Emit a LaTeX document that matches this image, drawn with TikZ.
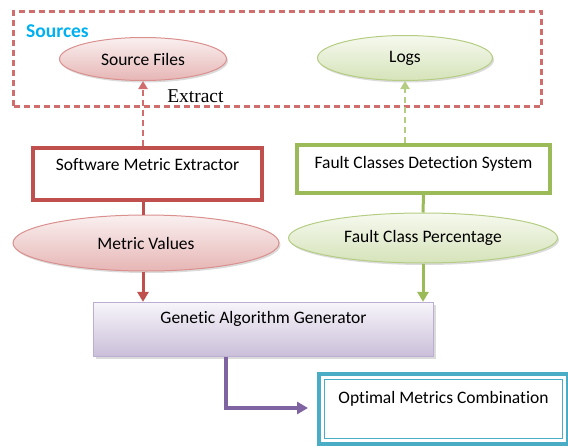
\documentclass[tikz,border=0pt]{standalone}
\usepackage{fontspec}
\setmainfont{Carlito}[Ligatures=NoCommon]
\newfontfamily\extractfont{Liberation Serif}
\usetikzlibrary{arrows.meta,shapes.geometric,shadows}

\definecolor{redline}{HTML}{C0504D}
\definecolor{reddash}{HTML}{CF6E6C}
\definecolor{redsoft}{HTML}{D9908E}
\definecolor{redtop}{HTML}{FAF0F0}
\definecolor{redbottom}{HTML}{E6B6B5}
\definecolor{greenline}{HTML}{9BBB59}
\definecolor{greensoft}{HTML}{B4CD82}
\definecolor{greentop}{HTML}{F6F9EF}
\definecolor{greenbottom}{HTML}{D5E3B9}
\definecolor{purpleline}{HTML}{8064A2}
\definecolor{purplesoft}{HTML}{BCAED2}
\definecolor{purpletop}{HTML}{F7F5FA}
\definecolor{purplebottom}{HTML}{CABED9}
\definecolor{tealline}{HTML}{4BACC6}
\definecolor{skyblue}{HTML}{00B0F0}

\tikzset{
	redoval/.style={ellipse, draw=redsoft, line width=1pt, top color=redtop, bottom color=redbottom,
		drop shadow={shadow xshift=1.5pt, shadow yshift=-2pt, fill=black!35, opacity=0.4}},
	greenoval/.style={ellipse, draw=greensoft, line width=1pt, top color=greentop, bottom color=greenbottom,
		drop shadow={shadow xshift=1.5pt, shadow yshift=-2pt, fill=black!35, opacity=0.4}},
	redbox/.style={rectangle, draw=redline, line width=4pt, fill=white, inner ysep=0pt, text height=13pt},
	greenbox/.style={rectangle, draw=greenline, line width=4pt, fill=white, inner ysep=0pt, text height=13pt},
	genbox/.style={rectangle, draw=purplesoft, line width=1.2pt, top color=purpletop, bottom color=purplebottom,
		inner ysep=0pt, text height=13pt,
		drop shadow={shadow xshift=2pt, shadow yshift=-2pt, fill=black!40, opacity=0.35}},
	resultbox/.style={rectangle, draw=tealline, line width=4pt, fill=white, inner ysep=0pt, text height=13pt,
		path picture={\draw[tealline, line width=1pt]
			([shift={(5.5pt,-5.5pt)}]path picture bounding box.north west) rectangle
			([shift={(-5.5pt,5.5pt)}]path picture bounding box.south east);}},
	srcframe/.style={rectangle, draw=reddash, line width=2.5pt, dash pattern=on 6pt off 4pt},
	reddashed/.style={draw=reddash, line width=2.5pt, dash pattern=on 6pt off 4pt, -{Triangle[length=8pt, width=9pt]}},
	greendashed/.style={draw=greensoft, line width=2.5pt, dash pattern=on 6pt off 4pt, -{Triangle[length=8pt, width=9pt]}},
	redarrow/.style={draw=redline, line width=3pt, -{Triangle[length=10pt, width=11pt]}},
	greenarrow/.style={draw=greenline, line width=3pt, -{Triangle[length=10pt, width=11pt]}},
	purplearrow/.style={draw=purpleline, line width=3.5pt, -{Triangle[length=11pt, width=12pt]}}
}

\begin{document}
\begin{tikzpicture}[x=1pt, y=-1pt, font=\fontsize{17.5}{20}\selectfont]
	\useasboundingbox (0,0) rectangle (568,447);
	\clip (0,0) rectangle (568,447);

	% sources
	\node[srcframe, minimum width=528pt, minimum height=95pt] (sources) at (277.5,59) {};
	\node[anchor=west, inner sep=0pt, text=skyblue, font=\fontsize{19.5}{22}\selectfont\bfseries] (srctitle) at (26,31) {Sources};
	\node[redoval, minimum width=167pt, minimum height=43pt] (src) at (143,59) {Source Files};
	\node[greenoval, minimum width=175pt, minimum height=45pt] (logs) at (405,58) {Logs};

	% extraction and detection
	\node[redbox, minimum width=229pt, minimum height=52pt, text depth=21pt] (sme) at (147.5,174) {Software Metric Extractor};
	\node[greenbox, minimum width=253pt, minimum height=48pt, text depth=15pt] (fcd) at (423.5,169) {Fault Classes Detection System};
	\node[redoval, minimum width=266pt, minimum height=56pt] (mv) at (146,243) {Metric Values};
	\node[greenoval, minimum width=269pt, minimum height=50pt] (fcp) at (423,238) {Fault Class Percentage};

	% generator and result
	\node[genbox, minimum width=340pt, minimum height=54pt, text depth=26pt] (ga) at (263.5,329.5) {Genetic Algorithm Generator};
	\node[resultbox, minimum width=249pt, minimum height=70pt, text depth=25pt] (omc) at (443.5,409) {Optimal Metrics Combination};
	\coordinate (bend) at (226,408);

	\draw[reddashed] (src.south |- sme.north) -- node[pos=0.77, anchor=west, inner sep=0pt, xshift=23pt] (extract) {\extractfont\fontsize{19.5}{22}\selectfont Extract} (src.south);
	\draw[greendashed] (logs.south |- fcd.north) -- (logs.south);

	\draw[draw=redline, line width=3pt] (src.south |- sme.south) -- (src.south |- mv.north);
	\draw[redarrow] (src.south |- mv.south) -- (src.south |- ga.north);
	\draw[draw=greenline, line width=3pt] (fcd.south) -- (fcp.north);
	\draw[greenarrow] (fcp.south) -- (fcp.south |- ga.north);

	\draw[purplearrow, shorten >=9pt] (ga.south -| bend) -- (bend) -- (bend -| omc.west);
\end{tikzpicture}
\end{document}
